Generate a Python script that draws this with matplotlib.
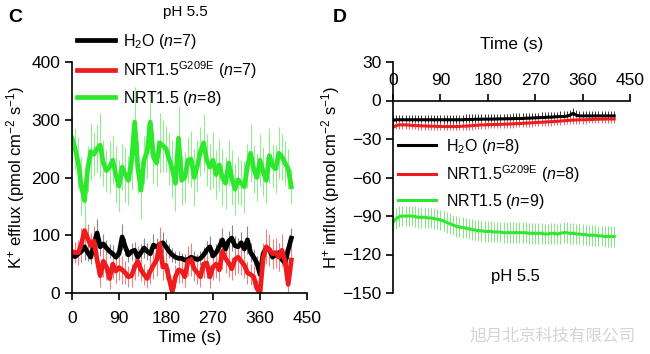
import numpy as np
import matplotlib
matplotlib.use("Agg")
import matplotlib.pyplot as plt

plt.rcParams['font.family'] = ['Liberation Sans', 'DejaVu Sans']
plt.rcParams['mathtext.fontset'] = 'custom'
plt.rcParams['mathtext.rm'] = 'Liberation Sans'
plt.rcParams['mathtext.it'] = 'Liberation Sans:italic'
plt.rcParams['mathtext.bf'] = 'Liberation Sans:bold'

#####################################
#############   DATA   ##############
#####################################

# sampling grid (s)
time = np.arange(0, 421, 6)

# panel C, K+ efflux
k_h2o = [65, 63, 68, 72, 80, 70, 62, 85, 104, 80,
         85, 78, 72, 68, 62, 68, 97, 80, 66, 72,
         74, 62, 70, 78, 72, 68, 83, 80, 84, 87,
         80, 72, 66, 62, 60, 60, 57, 58, 62, 60,
         58, 60, 66, 74, 80, 64, 70, 80, 92, 76,
         90, 95, 82, 80, 87, 76, 92, 70, 62, 52,
         32, 68, 78, 75, 62, 66, 70, 58, 52, 75,
         95]
k_h2o_se = [12, 10, 14, 18, 22, 15, 12, 20, 25, 16,
            18, 14, 12, 15, 10, 14, 22, 16, 12, 14,
            15, 12, 14, 18, 14, 12, 20, 15, 16, 18,
            14, 12, 12, 10, 12, 10, 10, 12, 14, 12,
            10, 12, 14, 16, 18, 12, 14, 16, 20, 14,
            18, 22, 16, 15, 18, 14, 24, 16, 14, 12,
            15, 16, 18, 16, 14, 14, 16, 12, 14, 16,
            18]
k_g209e = [72, 70, 70, 85, 108, 95, 82, 90, 58, 30,
           55, 45, 25, 50, 38, 44, 40, 35, 28, 30,
           45, 55, 40, 32, 25, 38, 48, 57, 85, 45,
           48, 25, 2, 28, 40, 38, 28, 55, 58, 42,
           35, 28, 50, 52, 28, 45, 50, 40, 72, 60,
           52, 42, 58, 62, 55, 48, 35, 32, 28, 8,
           0, 60, 80, 75, 68, 70, 62, 74, 55, 15,
           57]
k_g209e_se = [20, 18, 22, 28, 30, 25, 22, 26, 24, 20,
              28, 22, 18, 25, 20, 22, 24, 20, 18, 20,
              22, 26, 20, 18, 16, 22, 24, 28, 30, 22,
              24, 18, 16, 20, 22, 20, 18, 26, 28, 22,
              20, 18, 24, 26, 20, 22, 24, 20, 30, 26,
              24, 20, 26, 28, 24, 22, 20, 18, 18, 14,
              12, 26, 30, 28, 26, 26, 24, 28, 22, 16,
              24]
k_nrt15 = [268, 250, 225, 185, 160, 215, 245, 240, 250, 256,
           225, 212, 218, 230, 205, 185, 218, 205, 195, 228,
           296, 218, 178, 230, 245, 296, 235, 225, 260, 255,
           250, 232, 215, 190, 268, 195, 200, 230, 232, 200,
           220, 245, 260, 230, 218, 230, 205, 222, 200, 190,
           225, 200, 180, 196, 190, 184, 220, 242, 215, 200,
           230, 210, 195, 238, 220, 215, 242, 236, 225, 215,
           184]
k_nrt15_se = [40, 35, 45, 50, 45, 40, 50, 38, 42, 55,
              40, 35, 45, 42, 50, 45, 40, 48, 42, 50,
              60, 45, 50, 42, 48, 55, 45, 40, 52, 45,
              40, 45, 50, 48, 55, 42, 45, 40, 48, 50,
              45, 42, 50, 45, 40, 48, 42, 45, 50, 45,
              40, 48, 45, 42, 40, 45, 38, 50, 42, 40,
              45, 42, 40, 48, 38, 42, 45, 40, 38, 35,
              30]

# panel D, H+ influx
h_h2o = [-15.5, -15, -15, -15, -15, -15, -15, -15, -15, -15,
         -15, -15, -15, -15, -15, -15, -15, -15, -15, -15,
         -15, -15, -15, -14.8, -14.8, -14.8, -14.6, -14.6, -14.6, -14.5,
         -14.5, -14.5, -14.4, -14.4, -14.3, -14.3, -14.2, -14.2, -14.1, -14,
         -14, -14, -13.8, -13.8, -13.6, -13.5, -13.4, -13.3, -13.2, -13,
         -13, -12.8, -12.6, -12.5, -12.5, -12.2, -11.5, -10, -11.5, -12,
         -12, -12, -12, -12, -12, -12, -12, -12, -12, -12,
         -12]
h_g209e = [-21, -19.5, -19, -19, -19, -19.2, -19.4, -19.5, -19.6, -19.8,
           -19.8, -20, -20, -20, -20.2, -20.2, -20.3, -20.3, -20.3, -20.3,
           -20.3, -20.2, -20, -20, -19.8, -19.6, -19.4, -19.2, -19, -19,
           -18.8, -18.8, -18.7, -18.7, -18.6, -18.5, -18.4, -18.3, -18.2, -18,
           -18, -17.8, -17.6, -17.5, -17.4, -17.2, -17, -17, -16.8, -16.6,
           -16.5, -16.4, -16.2, -16, -15.8, -15.6, -15.4, -15.2, -15.2, -15,
           -15, -15, -14.8, -14.8, -14.6, -14.6, -14.5, -14.5, -14.4, -14.4,
           -14.4]
h_nrt15 = [-95, -92, -90.5, -90, -90, -90, -90, -90.5, -91, -91,
           -91, -91.5, -91.5, -92, -92.5, -93, -94, -95, -96, -97,
           -98, -98.5, -99, -99.5, -100, -100.5, -101, -101.5, -101.5, -102,
           -102, -102, -102.5, -102.5, -102.5, -103, -103, -103, -103, -103,
           -103, -103, -103, -103.5, -103.5, -103.5, -103.5, -103.5, -104, -104,
           -103.5, -103.5, -104, -103.5, -103, -103, -103.5, -103.5, -104, -104,
           -104.5, -104.5, -105, -105, -105, -105.5, -105.5, -106, -106, -106,
           -106]
h_se = [4, 3, 8]   # H2O, G209E, NRT1.5

LABELS_C = [r"H$_2$O ($n$=7)", r"NRT1.5$^{\mathrm{G209E}}$ ($n$=7)", r"NRT1.5 ($n$=8)"]
LABELS_D = [r"H$_2$O ($n$=8)", r"NRT1.5$^{\mathrm{G209E}}$ ($n$=8)", r"NRT1.5 ($n$=9)"]
COLORS = ["black", "#ee1c1c", "#2ee82e"]
ERR_COLORS_C = ["#888888", "#f08080", "#90ee90"]
ERR_COLORS_D = ["#333333", "#f06060", "#80e880"]

FS = 12.5

#####################################
#############   PLOT   ##############
#####################################

fig = plt.figure(figsize=(6.5, 3.54), dpi=100)
W, H = 650, 354

# ---- panel C ----
axC = fig.add_axes([72 / W, 1 - 293 / H, 235 / W, 231 / H])
seriesC = [(k_h2o, k_h2o_se), (k_g209e, k_g209e_se), (k_nrt15, k_nrt15_se)]
for (y, se), c, ec in zip(seriesC, COLORS, ERR_COLORS_C):
    axC.errorbar(time, y, yerr=se, fmt='none', ecolor=ec, elinewidth=0.8)
for (y, se), c, lab in zip(seriesC, COLORS, LABELS_C):
    axC.plot(time, y, color=c, lw=3.4, label=lab)

axC.set_xlim(0, 450)
axC.set_ylim(0, 400)
axC.set_xticks([0, 90, 180, 270, 360, 450])
axC.set_yticks([0, 100, 200, 300, 400])
axC.spines['top'].set_visible(False)
axC.spines['right'].set_visible(False)
for s in ['left', 'bottom']:
    axC.spines[s].set_linewidth(1.2)
axC.tick_params(labelsize=FS, width=1.2, length=5)
axC.tick_params(axis='x', pad=8)
axC.set_xlabel("Time (s)", fontsize=FS, labelpad=3)
axC.set_ylabel(r"K$^{+}$ efflux (pmol cm$^{-2}$ s$^{-1}$)", fontsize=12, labelpad=3)
axC.legend(loc='upper left', bbox_to_anchor=(77 / W, 1 - 32 / H),
           bbox_transform=fig.transFigure, frameon=False, fontsize=11.5,
           borderpad=0, borderaxespad=0, handlelength=2.4, handletextpad=0.5,
           labelspacing=0.5)

# ---- panel D ----
axD = fig.add_axes([393 / W, 1 - 293 / H, 237 / W, 231 / H])
seriesD = [h_h2o, h_g209e, h_nrt15]
for y, se, ec in zip(seriesD, h_se, ERR_COLORS_D):
    axD.errorbar(time, y, yerr=se, fmt='none', ecolor=ec, elinewidth=0.7)
for y, c, lab in zip(seriesD, COLORS, LABELS_D):
    axD.plot(time, y, color=c, lw=2.2, label=lab)

axD.set_xlim(0, 450)
axD.set_ylim(-150, 30)
axD.set_xticks([0, 90, 180, 270, 360, 450])
axD.set_yticks([30, 0, -30, -60, -90, -120, -150])
axD.spines['right'].set_visible(False)
axD.spines['bottom'].set_visible(False)
axD.spines['top'].set_position(('data', 0))
axD.xaxis.set_ticks_position('top')
axD.xaxis.set_label_position('top')
for s in ['left', 'top']:
    axD.spines[s].set_linewidth(1.2)
axD.tick_params(labelsize=FS, width=1.2, length=5)
axD.tick_params(axis='x', pad=4)
axD.set_xlabel("Time (s)", fontsize=FS, labelpad=17)
axD.set_ylabel(r"H$^{+}$ influx (pmol cm$^{-2}$ s$^{-1}$)", fontsize=12, labelpad=0)
axD.legend(loc='upper left', bbox_to_anchor=(398 / W, 1 - 137 / H),
           bbox_transform=fig.transFigure, frameon=False, fontsize=11.5,
           borderpad=0, borderaxespad=0, handlelength=2.4, handletextpad=0.6,
           labelspacing=0.45)

# ---- annotations ----
fig.text(185 / W, 1 - 12 / H, "pH 5.5", fontsize=11, ha='center', va='center')
fig.text(515 / W, 1 - 277 / H, "pH 5.5", fontsize=12, ha='center', va='center')
fig.text(8 / W, 1 - 17 / H, "C", fontsize=14, fontweight='bold', va='center')
fig.text(333 / W, 1 - 17 / H, "D", fontsize=14, fontweight='bold', va='center')
fig.text(470 / W, 1 - 336 / H, "旭月北京科技有限公司", fontsize=12,
         family=['Noto Sans CJK SC', 'DejaVu Sans'], color='#d4d4d4', va='center')

fig.savefig("out.png", dpi=100)
